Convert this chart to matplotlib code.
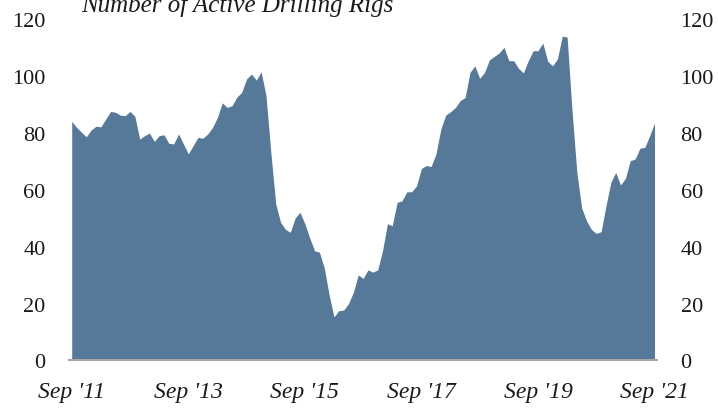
import numpy as np
import pandas as pd
import matplotlib
matplotlib.use('Agg')
import matplotlib.pyplot as plt

# monthly active rig count, Sep 2011 .. Sep 2021
rigs = [
    83.9, 81.8, 80.1, 78.5, 80.9, 82.2, 82.0, 84.7, 87.4, 87.1,
    86.1, 85.9, 87.4, 85.7, 77.7, 78.9, 79.8, 76.9, 78.9, 79.2,
    76.2, 76.0, 79.5, 76.0, 72.5, 75.4, 78.3, 78.0, 79.5, 81.8,
    85.3, 90.4, 88.8, 89.4, 92.4, 94.1, 98.8, 100.5, 98.4, 101.3,
    93.0, 73.0, 55.0, 48.5, 46.0, 45.0, 50.0, 52.0, 48.0, 43.0,
    38.5, 38.0, 32.5, 23.0, 15.3, 17.5, 17.7, 20.0, 24.0, 30.0,
    28.8, 31.8, 31.0, 31.8, 38.5, 48.0, 47.3, 55.5, 56.0, 59.2,
    59.2, 61.3, 67.4, 68.4, 68.1, 72.5, 81.2, 86.1, 87.3, 88.8,
    91.2, 92.3, 101.1, 103.4, 99.0, 101.1, 105.5, 106.7, 107.9, 109.9,
    105.2, 105.2, 102.5, 100.9, 105.2, 108.7, 108.7, 111.4, 105.0, 103.4,
    105.8, 113.8, 113.5, 88.0, 66.0, 53.5, 49.0, 46.0, 44.6, 45.2,
    54.3, 62.5, 66.0, 61.6, 63.9, 70.1, 70.7, 74.5, 74.8, 78.9,
    83.3,
]
months = pd.date_range('2011-09-01', periods=len(rigs), freq='MS')
tick_labels = ["Sep '11", "Sep '13", "Sep '15", "Sep '17", "Sep '19", "Sep '21"]
yticks = [0, 20, 40, 60, 80, 100, 120]

x = np.arange(len(rigs))

plt.rcParams['font.family'] = ['Liberation Serif', 'DejaVu Serif']

fig = plt.figure(figsize=(7.18, 4.10), dpi=100)
ax = fig.add_axes([0.0965, 0.1183, 0.8185, 0.8341])

ax.fill_between(x, 0, rigs, color='#56799a', linewidth=0)

ax.set_xlim(-0.5, len(rigs) - 0.5)
ax.set_ylim(0, 120)

ax.set_xticks(x[::24])
ax.set_xticklabels(tick_labels, fontsize=17, style='italic', color='#1a1a1a')
ax.set_yticks(yticks)
ax.set_yticklabels([str(v) for v in yticks], fontsize=16, color='#1a1a1a')
ax.tick_params(axis='both', length=0)
ax.tick_params(axis='x', pad=15)
ax.tick_params(axis='y', pad=17, labelright=True)

for side in ['top', 'left', 'right']:
    ax.spines[side].set_visible(False)
ax.spines['bottom'].set_color('#a6a6a6')
ax.spines['bottom'].set_linewidth(1.5)

fig.text(0.33, 0.971, 'Number of Active Drilling Rigs', fontsize=18,
         style='italic', ha='center', va='baseline', color='#1a1a1a')

fig.savefig('out.png', dpi=100)
